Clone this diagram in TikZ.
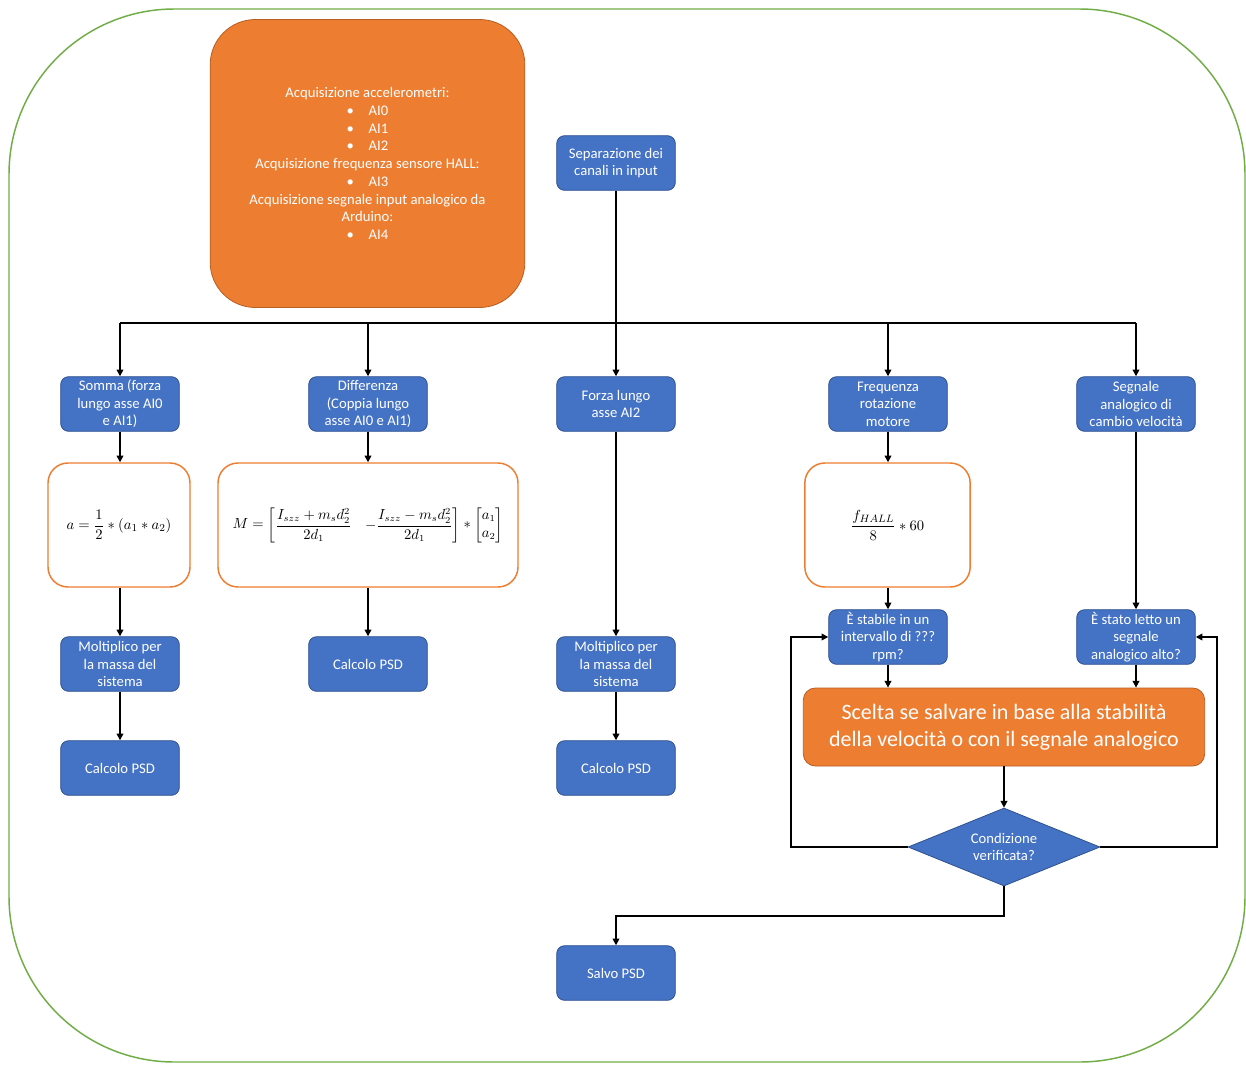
\documentclass[tikz,border=0pt]{standalone}
\usepackage{amsmath}
\usepackage{fontspec}
\setmainfont{Carlito}
\usetikzlibrary{shapes.geometric,arrows.meta}
\definecolor{oblue}{HTML}{4472C4}
\definecolor{oblueb}{HTML}{2F528F}
\definecolor{oorange}{HTML}{ED7D31}
\definecolor{oorangeb}{HTML}{B85E22}
\definecolor{ogreen}{HTML}{70AD47}
\tikzset{
  bbox/.style={rectangle, rounded corners=6pt, fill=oblue, draw=oblueb, line width=0.6pt,
    minimum width=89pt, minimum height=41pt, inner sep=0pt, align=center, text=white,
    font=\fontsize{11pt}{13.1pt}\selectfont},
  fbox/.style={rectangle, rounded corners=15pt, fill=white, draw=oorange, line width=1.1pt,
    minimum height=93pt, inner sep=0pt, align=center, font=\fontsize{11pt}{13pt}\selectfont},
  topbox/.style={rectangle, rounded corners=34pt, fill=oorange, draw=oorangeb, line width=0.6pt,
    minimum width=236pt, minimum height=216pt, inner sep=0pt, align=center, text=white,
    font=\fontsize{11pt}{13.3pt}\selectfont},
  bigbox/.style={rectangle, rounded corners=9pt, fill=oorange, draw=oorangeb, line width=0.6pt,
    minimum width=301pt, minimum height=58.5pt, inner sep=0pt, align=center, text=white,
    font=\fontsize{16.5pt}{20.3pt}\selectfont},
  dia/.style={diamond, aspect=2.46, fill=oblue, draw=oblueb, line width=0.6pt,
    minimum width=144pt, minimum height=58.5pt, inner sep=0pt, align=center, text=white,
    font=\fontsize{11pt}{13.1pt}\selectfont},
  conn/.style={draw=black, line width=1.1pt},
  arr/.style={conn, -{Triangle[length=5pt,width=5pt]}},
}
\begin{document}
\begin{tikzpicture}[x=0.75pt,y=-0.75pt]
\useasboundingbox (0,0) rectangle (1246,1064);
\draw[ogreen, line width=1.1pt, rounded corners=124pt] (9,9) rectangle (1245,1062);

\node[topbox] (acq) at (367.5,163.5) {Acquisizione accelerometri:\\
  •\quad AI0\\ •\quad AI1\\ •\quad AI2\\
  Acquisizione frequenza sensore HALL:\\ •\quad AI3\\
  Acquisizione segnale input analogico da\\ Arduino:\\ •\quad AI4};

\node[bbox] (sep) at (616,163) {Separazione dei\\canali in input};
\node[bbox] (somma) at (120,404) {Somma (forza\\lungo asse AI0\\e AI1)};
\node[bbox] (diff) at (368,404) {Differenza\\(Coppia lungo\\asse AI0 e AI1)};
\node[bbox] (forza) at (616,404) {Forza lungo\\asse AI2};
\node[bbox] (freq) at (888,404) {Frequenza\\rotazione\\motore};
\node[bbox] (segn) at (1136,404) {Segnale\\analogico di\\cambio velocità};

\node[fbox, minimum width=106.5pt] (fa) at (119,525)
  {$\displaystyle a=\frac{1}{2}\ast(a_1\ast a_2)$};
\node[fbox, minimum width=225pt, font=\fontsize{10.5pt}{13pt}\selectfont] (fm) at (368,525)
  {$\displaystyle M=\begin{bmatrix}\dfrac{I_{szz}+m_s d_2^2}{2d_1} & -\dfrac{I_{szz}-m_s d_2^2}{2d_1}\end{bmatrix}\ast\begin{bmatrix}a_1\\ a_2\end{bmatrix}$};
\node[fbox, minimum width=124pt] (ff) at (887.5,525)
  {$\displaystyle \frac{f_{HALL}}{8}\ast 60$};

\node[bbox] (molt1) at (120,664) {Moltiplico per\\la massa del\\sistema};
\node[bbox] (psd2) at (368,664) {Calcolo PSD};
\node[bbox] (molt3) at (616,664) {Moltiplico per\\la massa del\\sistema};
\node[bbox] (psd1) at (120,768) {Calcolo PSD};
\node[bbox] (psd3) at (616,768) {Calcolo PSD};
\node[bbox] (stab) at (888,637) {È stabile in un\\intervallo di ???\\rpm?};
\node[bbox] (letto) at (1136,637) {È stato letto un\\segnale\\analogico alto?};
\node[bigbox] (scelta) at (1004,727) {Scelta se salvare in base alla stabilità\\della velocità o con il segnale analogico};
\node[dia] (cond) at (1004,847) {Condizione\\verificata?};
\node[bbox] (salvo) at (616,973) {Salvo PSD};

% bus
\coordinate (bus) at (616,323);
\draw[conn] (sep.south) -- (bus);
\draw[conn] (bus -| somma) -- (bus -| segn);
\draw[arr] (bus -| somma) -- (somma.north);
\draw[arr] (bus -| diff) -- (diff.north);
\draw[arr] (bus) -- (forza.north);
\draw[arr] (bus -| freq) -- (freq.north);
\draw[arr] (bus -| segn) -- (segn.north);

% columns
\draw[arr] (somma.south) -- (somma.south |- fa.north);
\draw[arr] (somma.south |- fa.south) -- (molt1.north);
\draw[arr] (molt1.south) -- (psd1.north);
\draw[arr] (diff.south) -- (fm.north);
\draw[arr] (fm.south) -- (psd2.north);
\draw[arr] (forza.south) -- (molt3.north);
\draw[arr] (molt3.south) -- (psd3.north);
\draw[arr] (freq.south) -- (freq.south |- ff.north);
\draw[arr] (freq.south |- ff.south) -- (stab.north);
\draw[arr] (segn.south) -- (letto.north);
\draw[arr] (stab.south) -- (stab.south |- scelta.north);
\draw[arr] (letto.south) -- (letto.south |- scelta.north);
\draw[arr] (scelta.south) -- (cond.north);

% loops
\coordinate (loopL) at (791,847);
\coordinate (loopR) at (1217,847);
\draw[arr] (cond.west) -- (loopL) |- (stab.west);
\draw[arr] (cond.east) -- (loopR) |- (letto.east);
\coordinate (down) at (1004,916);
\draw[arr] (cond.south) -- (down) -| (salvo.north);
\end{tikzpicture}
\end{document}
